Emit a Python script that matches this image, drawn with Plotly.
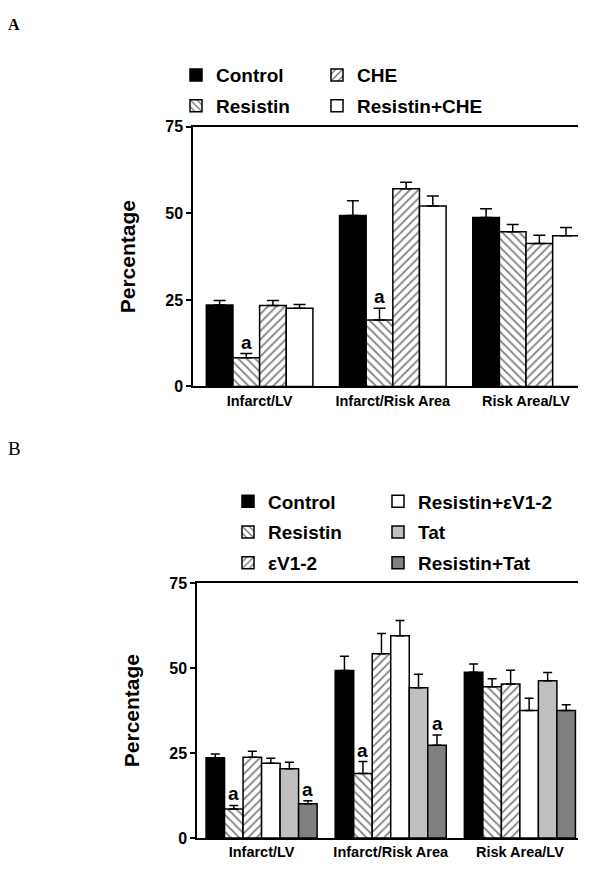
import plotly.graph_objects as go

# ---------------- data ----------------
groups = ["Infarct/LV", "Infarct/Risk Area", "Risk Area/LV"]

# Panel A
a_names = ["Control", "Resistin", "CHE", "Resistin+CHE"]
a_control = [23.5, 49.4, 48.8]
a_control_err = [1.3, 4.2, 2.5]
a_resistin = [8.3, 19.2, 44.7]
a_resistin_err = [1.2, 3.4, 2.1]
a_che = [23.4, 57.1, 41.3]
a_che_err = [1.4, 1.9, 2.4]
a_rche = [22.6, 52.1, 43.5]
a_rche_err = [1.1, 2.9, 2.4]
a_sig = [("Resistin", 0), ("Resistin", 1)]

# Panel B
b_names = ["Control", "Resistin", "εV1-2", "Resistin+εV1-2", "Tat", "Resistin+Tat"]
b_control = [23.6, 49.3, 48.8]
b_control_err = [1.1, 4.2, 2.4]
b_resistin = [8.5, 19.0, 44.5]
b_resistin_err = [1.1, 3.5, 2.4]
b_ev = [23.8, 54.2, 45.3]
b_ev_err = [1.7, 6.0, 4.1]
b_rev = [22.0, 59.5, 37.5]
b_rev_err = [1.5, 4.5, 3.6]
b_tat = [20.4, 44.2, 46.3]
b_tat_err = [1.9, 4.0, 2.4]
b_rtat = [10.1, 27.3, 37.5]
b_rtat_err = [0.9, 3.0, 1.7]
b_sig = [("Resistin", 0), ("Resistin", 1), ("Resistin+Tat", 0), ("Resistin+Tat", 1)]

y_ticks = [0, 25, 50, 75]

# ---------------- styles ----------------
FONT = "Liberation Sans, Arial, sans-serif"
SERIF = "Liberation Serif, Times New Roman, serif"
PAGE_W, PAGE_H = 602, 870
BODY = 8  # default browser body margin
W, H = PAGE_W - 2 * BODY, PAGE_H - 2 * BODY

styles = {
    "Control": dict(color="black", pattern=None),
    "Resistin": dict(color="white", pattern="\\"),
    "CHE": dict(color="white", pattern="/"),
    "εV1-2": dict(color="white", pattern="/"),
    "Resistin+CHE": dict(color="white", pattern=None),
    "Resistin+εV1-2": dict(color="white", pattern=None),
    "Tat": dict(color="#c0c0c0", pattern=None),
    "Resistin+Tat": dict(color="#808080", pattern=None),
}

fig = go.Figure()


def add_panel(names, vals, errs, xa, ya, group_width, legends, cap, sig, tag):
    n = len(names)
    w = group_width / n
    offsets = {}
    for i, (nm, v, e) in enumerate(zip(names, vals, errs)):
        off = -group_width / 2 + i * w
        offsets[nm] = (off, v, e)
        st = styles[nm]
        marker = dict(color=st["color"], line=dict(color="black", width=1.5))
        if st["pattern"]:
            marker["pattern"] = dict(shape=st["pattern"], fgcolor="black",
                                     bgcolor="white", size=6, solidity=0.3)
        fig.add_trace(go.Bar(
            x=list(range(len(groups))), y=v, name=nm,
            width=w, offset=off, marker=marker,
            xaxis=xa, yaxis=ya,
            legend=legends[i], legendgroup=tag + nm,
            error_y=dict(type="data", symmetric=False, array=e,
                         arrayminus=[0] * len(e), color="black",
                         thickness=1.5, width=cap),
        ))
    for nm, g in sig:
        off, v, e = offsets[nm]
        fig.add_annotation(x=g + off + w / 2, y=v[g] + e[g], xref=xa, yref=ya,
                           text="a", showarrow=False, yanchor="bottom", yshift=-1,
                           font=dict(family=FONT, size=19, color="black", weight="bold"))


add_panel(a_names, [a_control, a_resistin, a_che, a_rche],
          [a_control_err, a_resistin_err, a_che_err, a_rche_err],
          "x", "y", 0.80, ["legend", "legend", "legend2", "legend2"], 6, a_sig, "A")
add_panel(b_names, [b_control, b_resistin, b_ev, b_rev, b_tat, b_rtat],
          [b_control_err, b_resistin_err, b_ev_err, b_rev_err, b_tat_err, b_rtat_err],
          "x2", "y2", 0.86, ["legend3", "legend3", "legend3", "legend4", "legend4", "legend4"], 4.5, b_sig, "B")

xcommon = dict(tickvals=list(range(len(groups))), ticktext=groups, showline=True,
               mirror=True, linecolor="black", linewidth=1.5, ticks="",
               showgrid=False, zeroline=False,
               tickfont=dict(family=FONT, size=14.5, color="black", weight="bold"))
ycommon = dict(range=[0, 75], tickvals=y_ticks, showline=True, linecolor="black",
               linewidth=1.5, ticks="outside", ticklen=5, tickwidth=1.5,
               tickcolor="black", showgrid=False, zeroline=False,
               tickfont=dict(family=FONT, size=16, color="black", weight="bold"),
               title=dict(text="Percentage", standoff=24,
                          font=dict(family=FONT, size=21, color="black", weight="bold")))


def px(xp):
    return (xp - BODY) / W


def py(yp):
    return 1 - (yp - BODY) / H


fig.update_layout(
    xaxis=dict(domain=[px(193), px(578)], range=[-0.5, 2.39], anchor="y", **xcommon),
    yaxis=dict(domain=[py(386), py(121)], anchor="x", **ycommon),
    xaxis2=dict(domain=[px(197), px(578)], range=[-0.5, 2.45], anchor="y2", **xcommon),
    yaxis2=dict(domain=[py(846.7), py(586.7)], anchor="x2", **ycommon),
)

legfont = dict(family=FONT, size=19, color="black", weight="bold")
legcommon = dict(orientation="v", xanchor="left", yanchor="top", font=legfont,
                 bgcolor="rgba(0,0,0,0)", borderwidth=0, tracegroupgap=3,
                 traceorder="grouped")
fig.update_layout(
    legend=dict(x=px(176), y=py(49), **legcommon),
    legend2=dict(x=px(317), y=py(49), **legcommon),
    legend3=dict(x=px(228), y=py(484), **legcommon),
    legend4=dict(x=px(378), y=py(484), **legcommon),
)

fig.add_annotation(x=px(6), y=py(6), xref="paper", yref="paper", text="<b>A</b>",
                   showarrow=False, xanchor="left", yanchor="top",
                   font=dict(family=SERIF, size=16, color="black"))
fig.add_annotation(x=px(6), y=py(437), xref="paper", yref="paper", text="B",
                   showarrow=False, xanchor="left", yanchor="top",
                   font=dict(family=SERIF, size=19, color="black"))

fig.update_layout(
    width=W, height=H, margin=dict(l=0, r=0, t=0, b=0),
    barmode="overlay", showlegend=True,
    plot_bgcolor="white", paper_bgcolor="white",
)

fig.write_html("out.html", config={"displayModeBar": False})
